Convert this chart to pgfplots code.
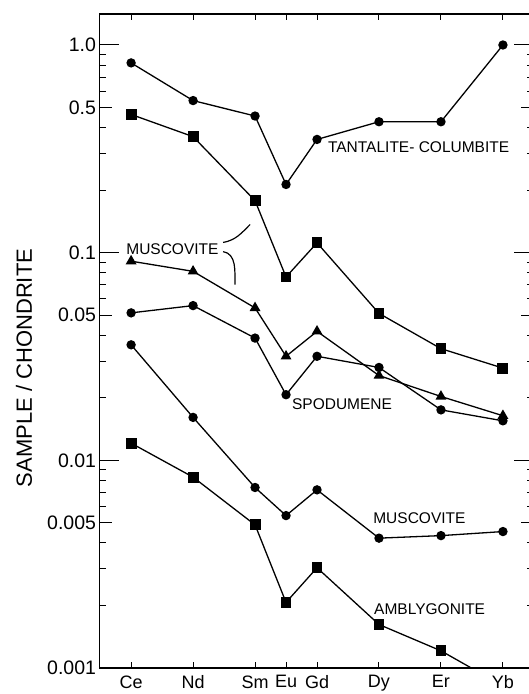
\documentclass[border=0pt]{standalone}
\usepackage{fontspec}
\setmainfont{Liberation Sans}
\usepackage{pgfplots}
\pgfplotsset{compat=1.18}
\begin{document}
\begin{tikzpicture}
\begin{axis}[
  width=433.5pt, height=654pt, scale only axis,
  xmin=56.98, xmax=70.97,
  ymode=log, ymin=0.001, ymax=1.41,
  axis line style={line width=1.1pt},
  xtick={58,60,62,63,64,66,68,70},
  xticklabels={Ce,Nd,Sm,Eu,Gd,Dy,Er,Yb},
  major x tick style={draw=none},
  minor xtick={58,60,62,63,64,66,68,70},
  ytick={0.001,0.01,0.1,1},
  yticklabels={0.001,0.01,0.1,1.0},
  minor ytick={0.002,0.003,0.004,0.005,0.006,0.007,0.008,0.009,0.02,0.03,0.04,0.05,0.06,0.07,0.08,0.09,0.2,0.3,0.4,0.5,0.6,0.7,0.8,0.9},
  extra y ticks={0.005,0.05,0.5},
  extra y tick labels={0.005,0.05,0.5},
  extra y tick style={major tick length=12pt},
  major tick length=19pt, minor tick length=6pt,
  tick align=inside,
  tick style={black, line width=1pt},
  xticklabel style={font=\fontsize{18}{20}\selectfont, yshift=-4pt},
  yticklabel style={font=\fontsize{19.5}{21}\selectfont},
  ylabel={SAMPLE / CHONDRITE},
  ylabel style={font=\fontsize{22}{24}\selectfont, at={(axis description cs:-0.1742,0.4587)}, anchor=center},
  clip marker paths=true,
  every axis plot/.append style={black, line width=1.3pt},
]
\coordinate (SW) at (rel axis cs:0,0);
% Tantalite-Columbite
\addplot[mark=*, mark size=4pt] coordinates {(58,0.82)(60,0.54)(62,0.455)(63,0.213)(64,0.351)(66,0.427)(68,0.427)(70,1.0)};
% Muscovite (squares)
\addplot[mark=square*, mark size=4.8pt] coordinates {(58,0.463)(60,0.362)(62,0.178)(63,0.0764)(64,0.1115)(66,0.051)(68,0.0345)(70,0.0278)};
% Muscovite (triangles)
\addplot[mark=triangle*, mark size=5pt] coordinates {(58,0.091)(60,0.0813)(62,0.0542)(63,0.0317)(64,0.0418)(66,0.0256)(68,0.0203)(70,0.0164)};
% Spodumene
\addplot[mark=*, mark size=4pt] coordinates {(58,0.0513)(60,0.0556)(62,0.0388)(63,0.0207)(64,0.0317)(66,0.028)(68,0.0175)(70,0.0155)};
% Muscovite (lower)
\addplot[mark=*, mark size=4pt] coordinates {(58,0.036)(60,0.0161)(62,0.0074)(63,0.00542)(64,0.00721)(66,0.00422)(68,0.00434)(70,0.00454)};
% Amblygonite
\addplot[mark=square*, mark size=4.8pt] coordinates {(58,0.0121)(60,0.0083)(62,0.00489)(63,0.00207)(64,0.00304)(66,0.00162)(68,0.00121)(70,0.00082)};
\begin{scope}[every node/.style={font=\fontsize{15.5}{17}\selectfont, anchor=west, inner sep=0pt}]
\node at (axis cs:64.35,0.321) {TANTALITE- COLUMBITE};
\node at (axis cs:57.84,0.1035) {MUSCOVITE};
\node at (axis cs:63.19,0.01873) {SPODUMENE};
\node at (axis cs:65.81,0.00528) {MUSCOVITE};
\node at (axis cs:65.84,0.00192) {AMBLYGONITE};
\end{scope}
\draw[line width=1.2pt] (axis cs:60.97,0.112) to[out=10,in=225] (axis cs:61.84,0.1366);
\draw[line width=1.2pt] (axis cs:60.97,0.1012) to[out=-10,in=90] (axis cs:61.35,0.0702);
\end{axis}
\pgfresetboundingbox
\path[use as bounding box] (SW) ++(-99.5pt,-26pt) rectangle ++(529pt,694pt);
\end{tikzpicture}
\end{document}
